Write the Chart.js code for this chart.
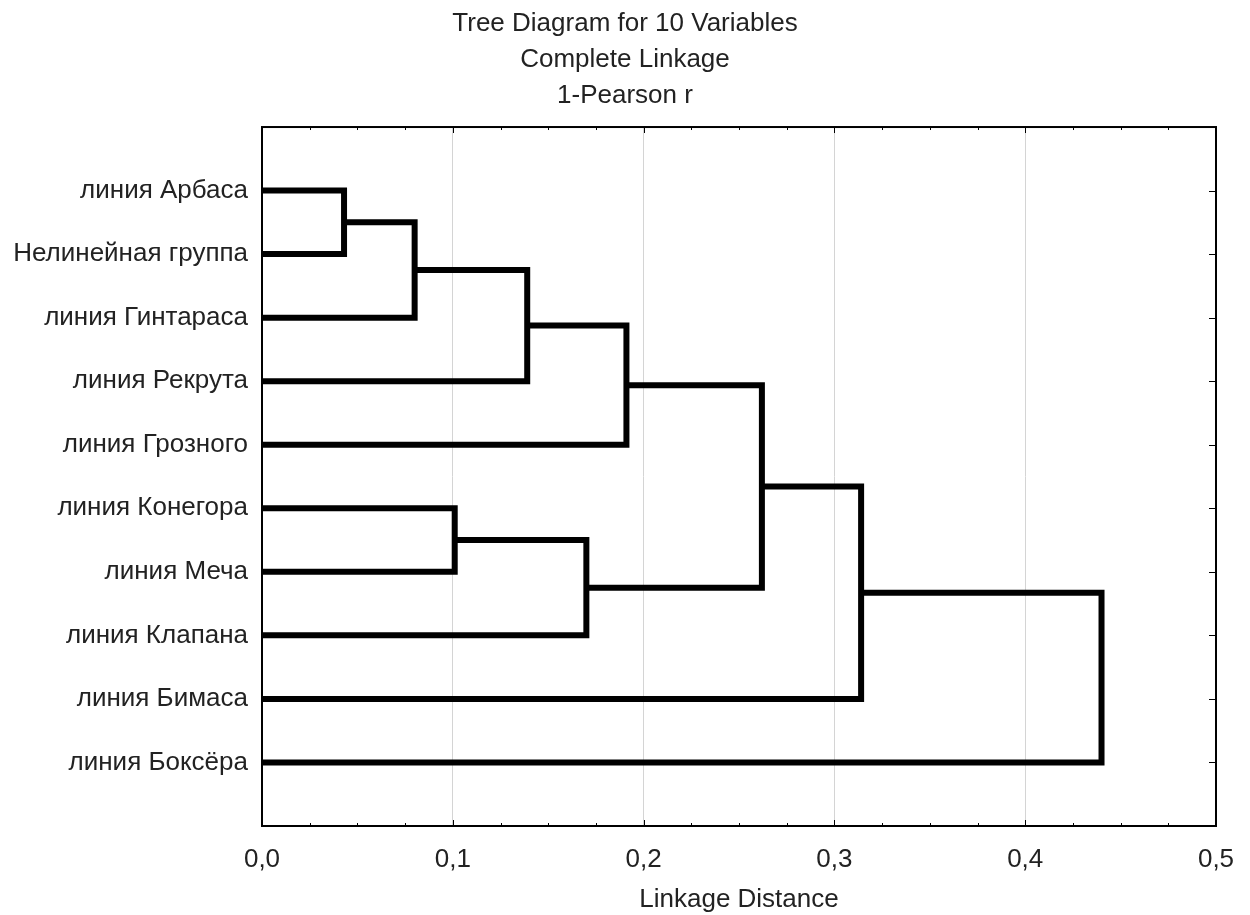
<!DOCTYPE html>
<html>
<head>
<meta charset="utf-8">
<script src="https://cdn.jsdelivr.net/npm/chart.js@4.4.1/dist/chart.umd.min.js"></script>
<style>
  html, body { margin: 0; padding: 0; background: #fff; }
  #wrap { width: 1250px; height: 915px; }
</style>
</head>
<body>
<div id="wrap"><canvas id="tree"></canvas></div>
<script>
// leaves, top to bottom
var labels = ['линия Арбаса', 'Нелинейная группа', 'линия Гинтараса', 'линия Рекрута', 'линия Грозного',
              'линия Конегора', 'линия Меча', 'линия Клапана', 'линия Бимаса', 'линия Боксёра'];
// merge steps: ids 0-9 are leaves, merge k gets id 10+k
var mergeA = [0, 10, 11, 12, 5, 14, 13, 16, 17];
var mergeB = [1, 2, 3, 4, 6, 7, 15, 8, 9];
var mergeDist = [0.043, 0.080, 0.139, 0.191, 0.101, 0.170, 0.262, 0.314, 0.440];
var xTicks = [0, 0.1, 0.2, 0.3, 0.4, 0.5];

var FONT = '"Liberation Sans", Arial, sans-serif';
var TXT = '#222';

// position / height of each cluster
var pos = labels.map(function(_, i) { return i + 1; });
var hgt = labels.map(function() { return 0; });
var datasets = [];
mergeA.forEach(function(a, k) {
    var b = mergeB[k], h = mergeDist[k];
    datasets.push({
        data: [{x: hgt[a], y: pos[a]}, {x: h, y: pos[a]}, {x: h, y: pos[b]}, {x: hgt[b], y: pos[b]}],
        showLine: true,
        borderColor: '#000',
        borderWidth: 6,
        pointRadius: 0,
        borderJoinStyle: 'miter',
        borderCapStyle: 'butt',
        tension: 0
    });
    pos.push((pos[a] + pos[b]) / 2);
    hgt.push(h);
});

// frame + inward tick marks
var frame = {
    id: 'frame',
    afterDraw: function(chart) {
        var ctx = chart.ctx, a = chart.chartArea, sx = chart.scales.x, sy = chart.scales.y;
        ctx.save();
        ctx.strokeStyle = '#000';
        ctx.lineWidth = 1;
        ctx.beginPath();
        for (var i = 0; i <= 20; i++) {
            var px = Math.round(sx.getPixelForValue(i * 0.025)) + 0.5;
            var len = (i % 4 === 0) ? 6 : 3;
            ctx.moveTo(px, a.bottom); ctx.lineTo(px, a.bottom - len);
            ctx.moveTo(px, a.top); ctx.lineTo(px, a.top + len);
        }
        labels.forEach(function(_, i) {
            var py = Math.round(sy.getPixelForValue(i + 1)) + 0.5;
            ctx.moveTo(a.right, py); ctx.lineTo(a.right - 7, py);
            ctx.moveTo(a.left, py); ctx.lineTo(a.left + 4, py);
        });
        ctx.stroke();
        ctx.lineWidth = 2;
        ctx.strokeRect(a.left, a.top, a.right - a.left, a.bottom - a.top);
        ctx.restore();
    }
};

new Chart(document.getElementById('tree'), {
    type: 'scatter',
    data: { datasets: datasets },
    plugins: [frame],
    options: {
        responsive: true,
        maintainAspectRatio: false,
        animation: false,
        layout: { padding: 0 },
        plugins: {
            legend: { display: false },
            tooltip: { enabled: false },
            title: {
                display: true,
                text: ['Tree Diagram for 10 Variables', 'Complete Linkage', '1-Pearson r'],
                color: TXT,
                font: { family: FONT, size: 26, weight: 'normal', lineHeight: 1.385 },
                padding: { top: 6, bottom: 13 }
            }
        },
        scales: {
            x: {
                type: 'linear',
                min: 0,
                max: 0.5,
                afterBuildTicks: function(scale) {
                    scale.ticks = xTicks.map(function(v) { return {value: v}; });
                },
                afterFit: function(scale) {
                    scale.height = 89;
                    scale.paddingLeft = 0;
                    scale.paddingRight = 0;
                },
                grid: {
                    drawTicks: false,
                    color: function(c) {
                        var v = c.tick ? c.tick.value : 0;
                        return (v > 0 && v < 0.5) ? '#d4d4d4' : 'rgba(0,0,0,0)';
                    },
                    lineWidth: 1
                },
                border: { display: false },
                ticks: {
                    color: TXT,
                    font: { family: FONT, size: 26 },
                    padding: 18,
                    callback: function(v) { return v.toFixed(1).replace('.', ','); }
                },
                title: {
                    display: true,
                    text: 'Linkage Distance',
                    color: TXT,
                    font: { family: FONT, size: 26 },
                    padding: { top: 8, bottom: 0 }
                }
            },
            y: {
                type: 'linear',
                min: 0,
                max: 11,
                reverse: true,
                afterBuildTicks: function(scale) {
                    scale.ticks = labels.map(function(_, i) { return {value: i + 1}; });
                },
                afterFit: function(scale) { scale.width = 262; },
                grid: { display: false, drawTicks: false },
                border: { display: false },
                ticks: {
                    color: TXT,
                    font: { family: FONT, size: 26 },
                    padding: 14,
                    autoSkip: false,
                    callback: function(v) { return labels[v - 1] || ''; }
                }
            },
            // empty right axis, only reserves the margin right of the frame
            yRight: {
                type: 'linear',
                position: 'right',
                min: 0,
                max: 11,
                afterFit: function(scale) { scale.width = 34; },
                grid: { display: false, drawTicks: false },
                border: { display: false },
                ticks: { display: false }
            }
        }
    }
});
</script>
</body>
</html>
